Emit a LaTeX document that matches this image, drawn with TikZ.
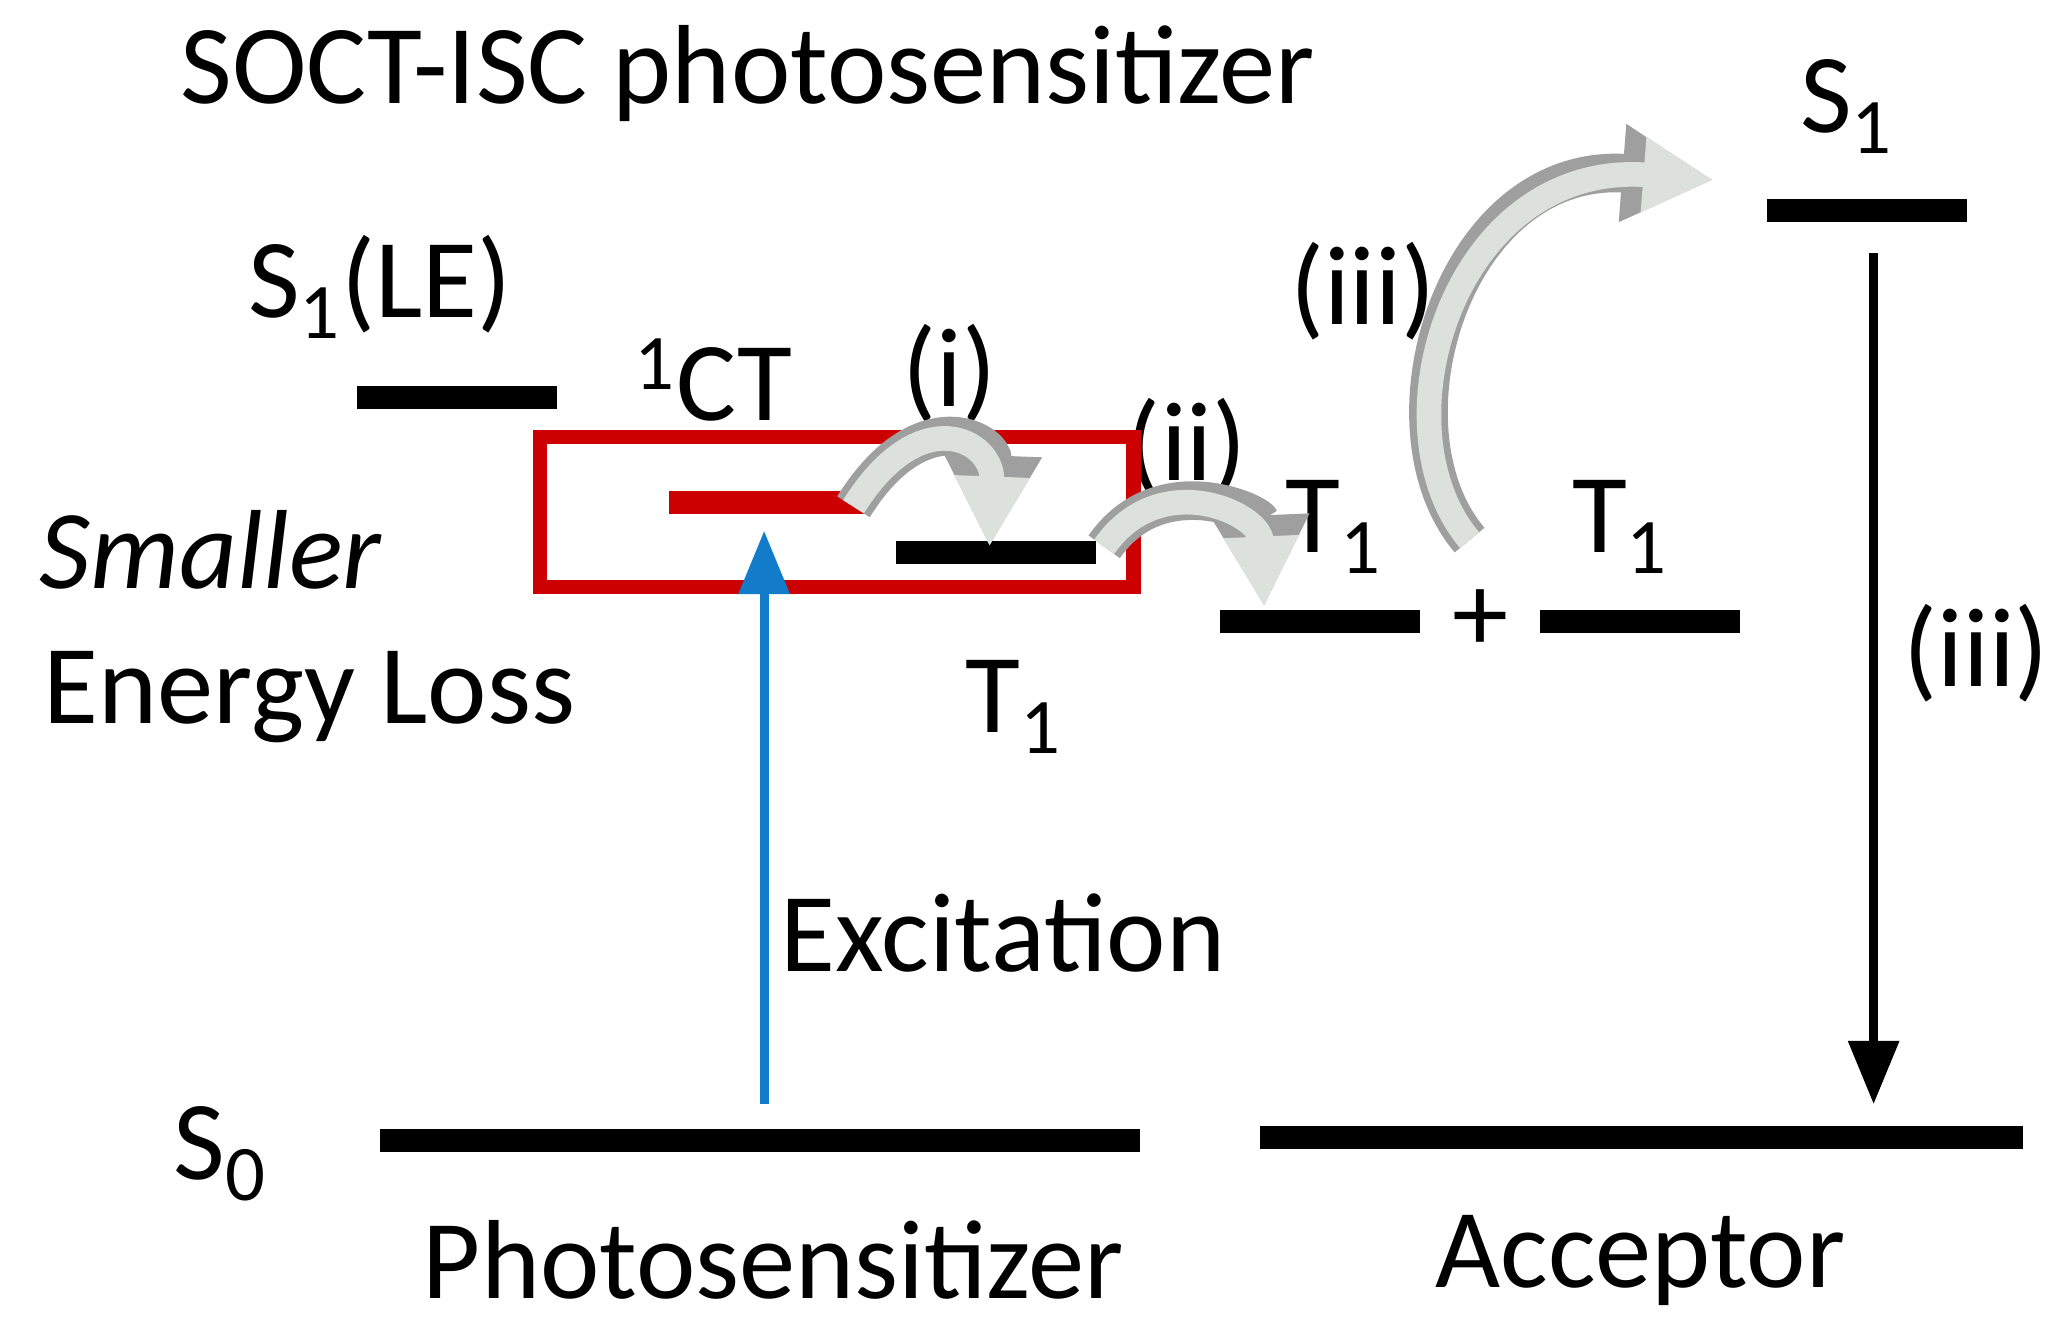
\documentclass[tikz,border=0pt]{standalone}
\usepackage{fontspec}
\setmainfont{Carlito}
\usetikzlibrary{arrows.meta}
\begin{document}
\begin{tikzpicture}[x=0.013335cm,y=-0.013335cm,
  lvl/.style={line width=6.5pt,black},
  txt/.style={font=\fontsize{32}{36}\selectfont,inner sep=0pt},
  gout/.style={line width=11pt,color=gray!75,-{Triangle[length=26pt,width=26pt]}},
  gin/.style={line width=7pt,color=green!6!gray!25,-{Triangle[length=20pt,width=20pt]}},
  darr/.style={line width=2.5pt,-{Triangle[length=18pt,width=14pt]}}]
\useasboundingbox (0,0) rectangle (1550,993);
% title and labels
\node[txt,anchor=west] (title) at (135,55) {SOCT-ISC photosensitizer};
\node[txt] (s1le) at (285,215) {S$_{\mathrm{1}}$(LE)};
\node[txt] (ct) at (535,285) {$^{\mathrm{1}}$CT};
\node[txt] (li) at (712,280) {(i)};
\node[txt] (lii) at (890,335) {(ii)};
\node[txt] (liii) at (1022,218) {(iii)};
\node[txt] (liii2) at (1482,490) {(iii)};
\node[txt,font=\itshape\fontsize{32}{36}\selectfont] (smaller) at (158,412) {Smaller};
\node[txt] (eloss) at (232,523) {Energy Loss};
\node[txt] (t1a) at (760,530) {T$_{\mathrm{1}}$};
\node[txt] (t1b) at (1000,395) {T$_{\mathrm{1}}$};
\node[txt] (t1c) at (1215,395) {T$_{\mathrm{1}}$};
\node[txt] (plus) at (1110,465) {+};
\node[txt] (s1a) at (1385,80) {S$_{\mathrm{1}}$};
\node[txt] (s0) at (165,865) {S$_{\mathrm{0}}$};
\node[txt] (exc) at (752,700) {Excitation};
\node[txt] (ps) at (580,945) {Photosensitizer};
\node[txt] (acc) at (1230,945) {Acceptor};
% levels
\coordinate (LEa) at (268,298); \coordinate (LEb) at (418,298);
\draw[lvl] (LEa) -- (LEb);
\coordinate (CTa) at (502,377); \coordinate (CTb) at (650,377);
\draw[lvl,color=red!80!black] (CTa) -- (CTb);
\coordinate (Ta) at (672,414); \coordinate (Tb) at (822,414);
\draw[lvl] (Ta) -- (Tb);
\coordinate (Tc) at (915,466); \coordinate (Td) at (1065,466);
\draw[lvl] (Tc) -- (Td);
\coordinate (Te) at (1155,466); \coordinate (Tf) at (1305,466);
\draw[lvl] (Te) -- (Tf);
\coordinate (Sa) at (1325,158); \coordinate (Sb) at (1475,158);
\draw[lvl] (Sa) -- (Sb);
\coordinate (G1) at (285,855); \coordinate (G2) at (855,855);
\draw[lvl] (G1) -- (G2);
\coordinate (G3) at (945,853); \coordinate (G4) at (1517,853);
\draw[lvl] (G3) -- (G4);
% red box
\node[draw=red!80!black,line width=4pt,minimum width=5.934cm,minimum height=1.4935cm,inner sep=0pt] (box) at (627.5,384) {};
% arrows
\coordinate (ex0) at (573,828); \coordinate (ex1) at (573,398);
\draw[darr,color=cyan!60!blue] (ex0) -- (ex1);
\coordinate (dn0) at (1405,190); \coordinate (dn1) at (1405,828);
\draw[darr] (dn0) -- (dn1);
\coordinate (a1) at (640,380); \coordinate (a2) at (742,410);
\coordinate (b1) at (828,410); \coordinate (b2) at (948,455);
\coordinate (c1) at (1102,405); \coordinate (c2) at (1285,135);
\foreach \s in {gout,gin}{
  \draw[\s] (a1) .. controls (690,300) and (745,330) .. (a2);
  \draw[\s] (b1) .. controls (870,350) and (945,385) .. (b2);
  \draw[\s] (c1) .. controls (1030,320) and (1090,120) .. (c2);
}
\end{tikzpicture}
\end{document}
